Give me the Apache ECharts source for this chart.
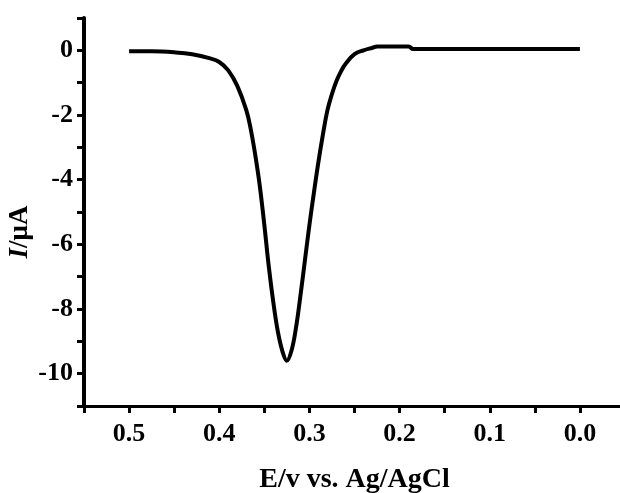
<!DOCTYPE html>
<html>
<head>
<meta charset="utf-8">
<script src="https://cdn.jsdelivr.net/npm/echarts@6/dist/echarts.min.js"></script>
<style>html,body{margin:0;padding:0;background:#fff;}#c{width:620px;height:493px;}</style>
</head>
<body>
<div id="c"></div>
<script>
// Potential (V vs. Ag/AgCl)
const potential = [0.50,0.475,0.45,0.43,0.41,0.40,0.39,0.38,0.37,0.365,0.36,0.355,0.35,0.345,0.34,0.335,0.33,0.325,0.32,0.315,0.31,0.305,0.30,0.295,0.29,0.285,0.28,0.275,0.27,0.265,0.26,0.25,0.24,0.23,0.225,0.19,0.185,0.15,0.10,0.05,0.0];
// Current (μA)
const current = [-0.03,-0.03,-0.06,-0.12,-0.25,-0.36,-0.62,-1.1,-1.85,-2.45,-3.25,-4.2,-5.4,-6.7,-7.8,-8.7,-9.3,-9.6,-9.3,-8.6,-7.6,-6.5,-5.4,-4.4,-3.45,-2.6,-1.85,-1.35,-0.95,-0.65,-0.42,-0.12,0.0,0.08,0.12,0.12,0.04,0.04,0.04,0.04,0.04];
const xTickLabels = ['0.5','0.4','0.3','0.2','0.1','0.0'];
const yTickLabels = ['0','-2','-4','-6','-8','-10'];

const font = 'Liberation Serif, Times New Roman, serif';
const data = potential.map((e, i) => [e, current[i]]);

const chart = echarts.init(document.getElementById('c'));
chart.setOption({
  animation: false,
  grid: { left: 84, right: -5, top: 18, bottom: 87, containLabel: false, outerBoundsMode: 'none' },
  xAxis: {
    type: 'value', inverse: true, min: -0.05, max: 0.55, interval: 0.05,
    name: 'E/v vs. Ag/AgCl', nameLocation: 'middle', nameGap: 60, nameMoveOverlap: false,
    nameTextStyle: { fontFamily: font, fontWeight: 'bold', fontSize: 28, color: '#000' },
    axisLine: { onZero: false, lineStyle: { color: '#000', width: 3 } },
    axisTick: { show: true, length: 7, lineStyle: { color: '#000', width: 3 } },
    axisLabel: {
      margin: 15, fontFamily: font, fontWeight: 'bold', fontSize: 26, color: '#000',
      formatter: v => { const s = Math.abs(v).toFixed(1); return xTickLabels.includes(s) && Math.abs(Math.round(v*10) - v*10) < 1e-6 ? s : ''; }
    },
    splitLine: { show: false }
  },
  yAxis: {
    type: 'value', min: -11, max: 1, interval: 1,
    name: '{i|I}/μA', nameLocation: 'middle', nameGap: 50, nameMoveOverlap: false,
    nameTextStyle: { fontFamily: font, fontWeight: 'bold', fontSize: 27, color: '#000', padding: [0, 40, 0, 0],
      rich: { i: { fontFamily: font, fontWeight: 'bold', fontStyle: 'italic', fontSize: 27, color: '#000' } } },
    axisLine: { show: true, onZero: false, lineStyle: { color: '#000', width: 4 } },
    axisTick: { show: true, length: 7, lineStyle: { color: '#000', width: 3 } },
    axisLabel: {
      margin: 11, fontFamily: font, fontWeight: 'bold', fontSize: 26, color: '#000',
      formatter: v => { const s = String(Math.round(v)); return yTickLabels.includes(s) ? s : ''; }
    },
    splitLine: { show: false }
  },
  series: [{
    type: 'line', data: data, smooth: 0.4, showSymbol: false,
    lineStyle: { color: '#000', width: 4 }
  }]
});
</script>
</body>
</html>
